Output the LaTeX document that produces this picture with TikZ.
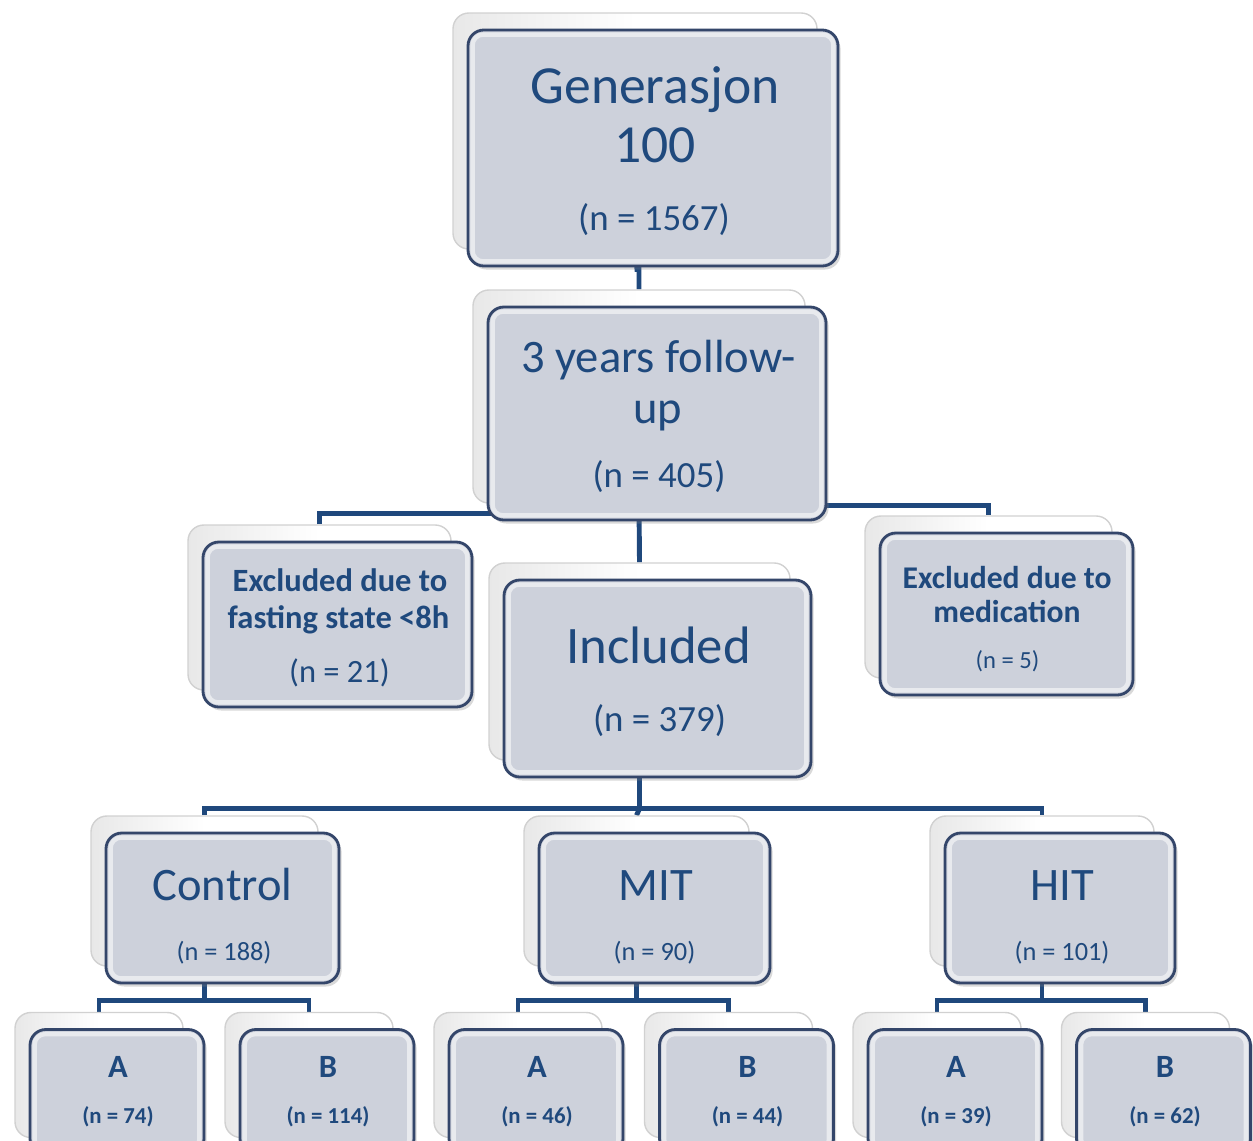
\documentclass[tikz,border=0pt]{standalone}
\usepackage{fontspec}
\setmainfont{Carlito}
\usetikzlibrary{calc,shadows,backgrounds}
\definecolor{txt}{HTML}{1F497D}
\definecolor{lnk}{HTML}{1F487C}
\definecolor{bord}{HTML}{34466A}
\definecolor{boxfill}{HTML}{CDD1DB}
\tikzset{
  frontbox/.style={draw=bord, line width=1.6pt, rounded corners=9pt, fill=boxfill, inner sep=0pt,
    drop shadow={shadow xshift=1.5pt, shadow yshift=-2pt, opacity=.3}},
  backbox/.style={draw=black!18, line width=0.8pt, rounded corners=9pt, left color=black!9, right color=white, middle color=white, inner sep=0pt},
  hilite/.style={draw=white, opacity=.55, line width=2.5pt, rounded corners=6pt},
  conn/.style={draw=lnk, line width=2.8pt},
  lbl/.style={text=txt, anchor=base, inner sep=0pt},
}
\newcommand\twinbox[5]{%
  \node[backbox, minimum width={0.02cm*(#4-6)}, minimum height={0.02cm*(#5)}] (#1-b) at (#2-18,#3-17) {};
  \node[frontbox, minimum width={0.02cm*(#4)}, minimum height={0.02cm*(#5)}] (#1) at (#2,#3) {};
  \draw[hilite] ($(#1.north west)+(6,6)$) rectangle ($(#1.south east)+(-6,-6)$);
}
\newcommand\sz[1]{\fontsize{#1}{#1}\selectfont}
\begin{document}
\begin{tikzpicture}[x=0.02cm, y=-0.02cm]
\useasboundingbox (0,0) rectangle (1253,1140);
\clip (0,0) rectangle (1253,1140);
% boxes
\twinbox{gen}{653}{148}{370}{236}
\twinbox{fu}{657}{413.5}{338}{213}
\twinbox{exf}{337.5}{624.5}{269}{165}
\twinbox{inc}{657.5}{678.5}{307}{197}
\twinbox{exm}{1006.5}{614}{253}{162}
\twinbox{ctl}{222.5}{908}{233}{150}
\twinbox{mit}{654.5}{908}{231}{150}
\twinbox{hit}{1060}{908}{230}{150}
\twinbox{a1}{117}{1092}{174}{125}
\twinbox{b1}{327}{1092}{174}{125}
\twinbox{a2}{536}{1092}{174}{125}
\twinbox{b2}{746.5}{1092}{174}{125}
\twinbox{a3}{955}{1092}{174}{125}
\twinbox{b3}{1163.5}{1092}{174}{125}
% texts
\node[lbl] (t-gen1) at (655,103) {\sz{30.5}Generasjon};
\node[lbl] (t-gen2) at (655,162) {\sz{30.5}100};
\node[lbl] (t-gen3) at (654,230) {\sz{21}(n = 1567)};
\node[lbl] (t-fu1) at (658.5,372) {\sz{26.5}3 years follow-};
\node[lbl] (t-fu2) at (658,423) {\sz{26.5}up};
\node[lbl] (t-fu3) at (659,487) {\sz{21}(n = 405)};
\node[lbl] (t-inc1) at (658.5,663) {\sz{30}Included};
\node[lbl] (t-inc2) at (659.5,731) {\sz{21}(n = 379)};
\node[lbl] (t-exf1) at (340,591) {\sz{18.5}\bfseries Excluded due to};
\node[lbl] (t-exf2) at (338.5,628) {\sz{18.5}\bfseries fasting state <8h};
\node[lbl] (t-exf3) at (339.5,682) {\sz{18.5}(n = 21)};
\node[lbl] (t-exm1) at (1007,588) {\sz{18}\bfseries Excluded due to};
\node[lbl] (t-exm2) at (1007,622) {\sz{18}\bfseries medication};
\node[lbl] (t-exm3) at (1007.5,668) {\sz{14}(n = 5)};
\node[lbl] (t-ctl1) at (222.5,900) {\sz{26.5}Control};
\node[lbl] (t-ctl2) at (224,960) {\sz{15}(n = 188)};
\node[lbl] (t-mit1) at (656,900) {\sz{26.5}MIT};
\node[lbl] (t-mit2) at (654.5,960) {\sz{15}(n = 90)};
\node[lbl] (t-hit1) at (1062,900) {\sz{26.5}HIT};
\node[lbl] (t-hit2) at (1062,960) {\sz{15}(n = 101)};
\foreach \nm/\x/\lt/\nv in {a1/118/A/74, b1/328/B/114, a2/537/A/46, b2/747.5/B/44, a3/956/A/39, b3/1165/B/62}{
  \node[lbl] (t-\nm1) at (\x,1077) {\sz{18.5}\bfseries \lt};
  \node[lbl] (t-\nm2) at (\x,1123) {\sz{13}\bfseries (n = \nv)};
}
% connectors
\begin{pgfonlayer}{background}
\coordinate (j1) at ($(gen-b.south)!0.5!(fu-b.north)$);
\draw[conn] (gen-b.south) -- (j1) -| (fu-b.north);
\coordinate (bus1) at ($(fu-b.south)+(0,10)$);
\coordinate (bus1r) at ($(fu-b.south)+(0,2)$);
\draw[conn] (fu-b.south) -- (inc-b.north);
\draw[conn] (exf-b.north) |- (bus1);
\draw[conn] (fu-b.south) |- (bus1r) -| (exm-b.north);
\coordinate (bus2) at ($(inc-b.south)+(0,48)$);
\draw[conn] (inc-b.south) -- (bus2) -- (mit-b.north);
\draw[conn] (ctl-b.north) |- (bus2) -| (hit-b.north);
\foreach \p/\l/\r in {ctl/a1/b1, mit/a2/b2, hit/a3/b3}{
  \coordinate (bus-\p) at ($(\p-b.south)+(0,34)$);
  \draw[conn] (\p-b.south) -- (bus-\p);
  \draw[conn] (\l-b.north) |- (bus-\p) -| (\r-b.north);
}
\end{pgfonlayer}
\end{tikzpicture}
\end{document}
